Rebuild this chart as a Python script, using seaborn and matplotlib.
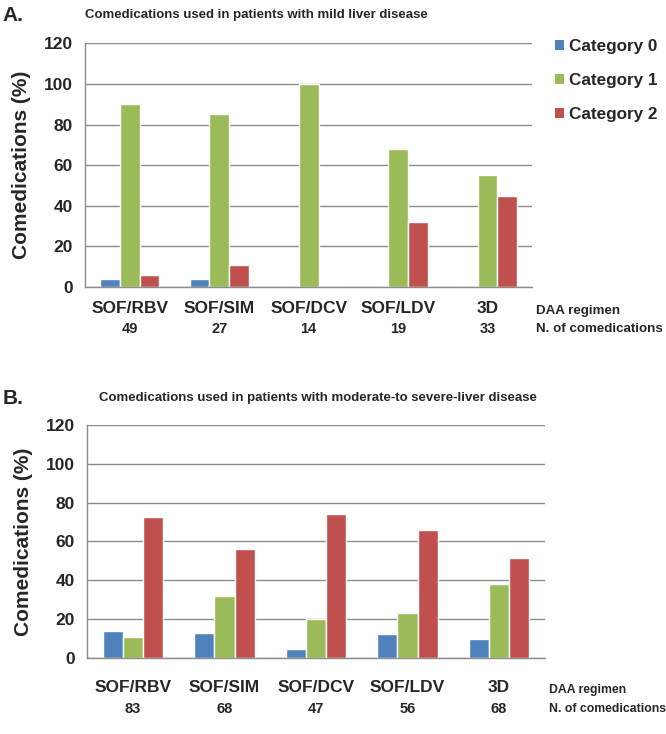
import numpy as np
import pandas as pd
import matplotlib
matplotlib.use("Agg")
import matplotlib.pyplot as plt
from matplotlib.patches import Patch
import seaborn as sns

# ===============================
# DATA
# ===============================
regimens = ["SOF/RBV", "SOF/SIM", "SOF/DCV", "SOF/LDV", "3D"]
categories = ["Category 0", "Category 1", "Category 2"]

mild_cat0 = [4, 4, 0, 0, 0]
mild_cat1 = [90, 85, 100, 68, 55]
mild_cat2 = [6, 11, 0, 32, 45]
mild_n = [49, 27, 14, 19, 33]

sev_cat0 = [13.5, 12.5, 4.5, 12, 9.5]
sev_cat1 = [10.5, 32, 20, 23, 38]
sev_cat2 = [72.5, 56, 74, 66, 51.5]
sev_n = [83, 68, 47, 56, 68]

palette = ["#4F81BD", "#9BBB59", "#C0504D"]

sns.set_style("white")
plt.rcParams["font.family"] = ["Liberation Sans", "DejaVu Sans"]


def to_long(c0, c1, c2):
    rows = []
    for cat, vals in zip(categories, [c0, c1, c2]):
        for reg, v in zip(regimens, vals):
            rows.append({"regimen": reg, "category": cat, "value": v})
    return pd.DataFrame(rows)


def draw_panel(ax, df, counts, title, letter, title_x, lab_off, num_off, side_size):
    sns.barplot(data=df, x="regimen", y="value", hue="category", order=regimens,
                hue_order=categories, palette=palette, width=0.66, saturation=1,
                legend=False, ax=ax)
    ax.set_ylim(0, 120)
    ax.set_xlim(-0.5, len(regimens) - 0.5)
    ax.set_yticks(np.arange(0, 121, 20))
    ax.yaxis.grid(True, color="#8c8c8c", linewidth=1.0)
    ax.set_axisbelow(True)
    for s in ["top", "right"]:
        ax.spines[s].set_visible(False)
    for s in ["left", "bottom"]:
        ax.spines[s].set_color("#8c8c8c")
        ax.spines[s].set_linewidth(1.0)
    ax.set_xlabel("")
    ax.set_ylabel("Comedications (%)", fontsize=15, fontweight="bold", labelpad=9)
    # category boundary ticks
    ax.set_xticks(np.arange(-0.5, len(regimens), 1.0), minor=True)
    ax.tick_params(axis="x", which="minor", length=7, color="#8c8c8c", direction="out")
    ax.tick_params(axis="x", which="major", length=0, pad=lab_off)
    ax.tick_params(axis="y", length=4, color="#8c8c8c", pad=5)
    for lbl in ax.get_xticklabels():
        lbl.set_fontsize(12.5)
        lbl.set_fontweight("bold")
    for lbl in ax.get_yticklabels():
        lbl.set_fontsize(12.5)
        lbl.set_fontweight("bold")

    # counts under each regimen, offset in points below the axis
    for i, n in enumerate(counts):
        ax.annotate(str(n), xy=(i, 0), xycoords=("data", "axes fraction"),
                    xytext=(0, -num_off), textcoords="offset points",
                    ha="center", va="center", fontsize=10.5, fontweight="bold")
    ax.annotate("DAA regimen", xy=(1.0, 0), xycoords="axes fraction",
                xytext=(3, -lab_off - 7), textcoords="offset points",
                ha="left", va="center", fontsize=side_size, fontweight="bold")
    ax.annotate("N. of comedications", xy=(1.0, 0), xycoords="axes fraction",
                xytext=(3, -num_off), textcoords="offset points",
                ha="left", va="center", fontsize=side_size, fontweight="bold")
    ax.text(title_x, 1.115, title, transform=ax.transAxes, ha="left", va="center",
            fontsize=9.5, fontweight="bold")
    ax.text(-0.185, 1.115, letter, transform=ax.transAxes, ha="left", va="center",
            fontsize=15, fontweight="bold")


fig = plt.figure(figsize=(6.66, 7.34), dpi=100)
ax_a = fig.add_axes([0.128, 0.609, 0.671, 0.332])
ax_b = fig.add_axes([0.131, 0.104, 0.687, 0.317])

draw_panel(ax_a, to_long(mild_cat0, mild_cat1, mild_cat2), mild_n,
           "Comedications used in patients with mild liver disease", "A.",
           0.0, 10, 30, 9.6)
draw_panel(ax_b, to_long(sev_cat0, sev_cat1, sev_cat2), sev_n,
           "Comedications used in patients with moderate-to severe-liver disease", "B.",
           0.025, 16, 37, 8.8)

handles = [Patch(facecolor=c, edgecolor="none") for c in palette]
leg = ax_a.legend(handles, categories, loc="upper left", bbox_to_anchor=(1.035, 1.045),
                  frameon=False, handlelength=0.55, handleheight=0.55, handletextpad=0.3,
                  labelspacing=1.1, borderaxespad=0.0,
                  prop={"size": 12.3, "weight": "bold"})

fig.savefig("out.png", dpi=100)
